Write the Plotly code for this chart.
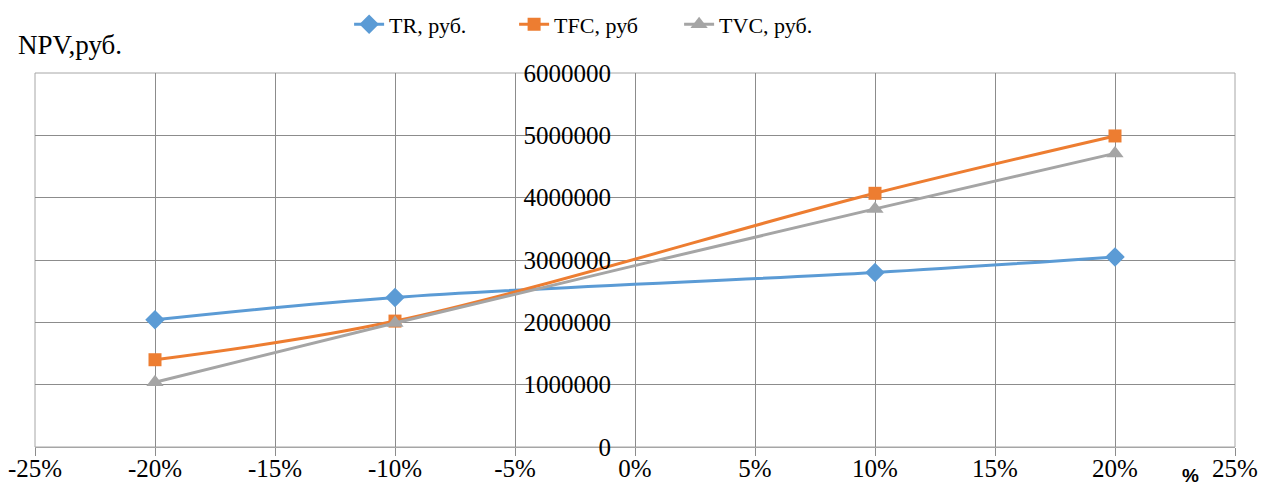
import plotly.graph_objects as go

x_vals = [-0.20, -0.10, 0.10, 0.20]
tr_vals = [2040000, 2400000, 2800000, 3050000]
tfc_vals = [1400000, 2020000, 4070000, 4990000]
tvc_vals = [1040000, 1990000, 3820000, 4710000]

x_tick_vals = [-0.25, -0.20, -0.15, -0.10, -0.05, 0.0, 0.05, 0.10, 0.15, 0.20, 0.25]
x_tick_text = ["-25%", "-20%", "-15%", "-10%", "-5%", "0%", "5%", "10%", "15%", "20%", "25%"]

series = [
    ("TR, руб.", tr_vals, "#5B9BD5", "diamond", 15),
    ("TFC, руб", tfc_vals, "#ED7D31", "square", 13),
    ("TVC, руб.", tvc_vals, "#A5A5A5", "triangle-up", 15),
]

fig = go.Figure()
for name, vals, color, sym, size in series:
    fig.add_trace(go.Scatter(
        x=x_vals, y=vals, name=name, mode="lines+markers",
        line=dict(color=color, width=3, shape="spline", smoothing=1.0),
        marker=dict(symbol=sym, size=size, color=color),
    ))

font_family = "Liberation Serif, Times New Roman, serif"
grid = "#8c8c8c"

fig.update_layout(
    width=1261, height=488,
    margin=dict(l=35, r=26, t=73, b=41, autoexpand=False),
    paper_bgcolor="white", plot_bgcolor="white",
    font=dict(family=font_family, size=25, color="black"),
    showlegend=True,
    legend=dict(orientation="h", x=0.468, xanchor="center", y=1.13, yanchor="middle",
                font=dict(size=22, family=font_family), entrywidth=120,
                bgcolor="rgba(0,0,0,0)"),
    xaxis=dict(range=[-0.25, 0.25], tickvals=x_tick_vals, ticktext=x_tick_text,
               showgrid=True, gridcolor=grid, gridwidth=1, zeroline=False,
               ticks="outside", ticklen=8, tickcolor=grid, automargin=False,
               ticklabelstandoff=-9,
               showline=True, linecolor="#a6a6a6", linewidth=1,
               tickfont=dict(size=25, family=font_family)),
    yaxis=dict(range=[0, 6000000], dtick=1000000, tickformat="d",
               showgrid=True, gridcolor=grid, gridwidth=1, zeroline=False,
               anchor="free", position=0.5, ticks="", ticklabelstandoff=24,
               showline=False, automargin=False,
               tickfont=dict(size=25, family=font_family)),
    shapes=[dict(type="rect", xref="x domain", yref="y domain", x0=0, x1=1, y0=0, y1=1,
                 line=dict(color="#a6a6a6", width=1), layer="below")],
    annotations=[
        dict(text="NPV,руб.", xref="paper", yref="paper", x=-0.0155, y=1.075,
             xanchor="left", yanchor="middle", showarrow=False,
             font=dict(size=27, family=font_family)),
        dict(text="<b>%</b>", xref="paper", yref="paper", x=0.9625, y=-0.075,
             xanchor="center", yanchor="middle", showarrow=False,
             font=dict(size=19, family="Liberation Sans, Arial, sans-serif")),
    ],
)

fig.write_html("out.html")
